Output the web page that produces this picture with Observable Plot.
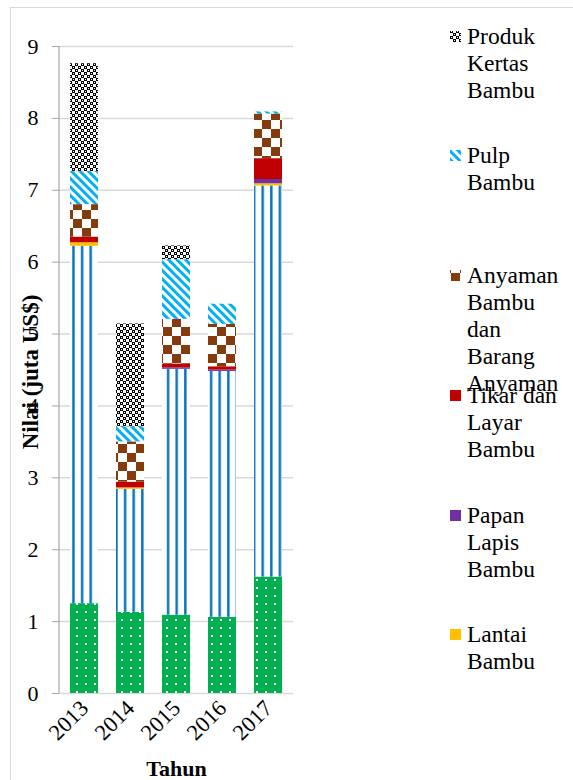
<!DOCTYPE html>
<html>
<head>
<meta charset="utf-8">
<script src="https://cdn.jsdelivr.net/npm/d3@7"></script>
<script src="https://cdn.jsdelivr.net/npm/@observablehq/plot@0.6"></script>
<style>
  html, body { margin: 0; padding: 0; background: #fff; }
  #chart { width: 573px; height: 780px; overflow: hidden; }
</style>
</head>
<body>
<div id="chart"></div>
<script>
// ---- Data (juta US$) ----
const years = ["2013", "2014", "2015", "2016", "2017"];
const seri1   = [1.25, 1.13, 1.09, 1.06, 1.62];   // green dotted (legend entry not visible)
const seri2   = [4.97, 1.71, 3.42, 3.42, 5.44];   // blue striped (legend entry not visible)
const lantai  = [0.05, 0.02, 0.00, 0.00, 0.03];   // Lantai Bambu
const papan   = [0.00, 0.00, 0.02, 0.02, 0.06];   // Papan Lapis Bambu
const tikar   = [0.08, 0.08, 0.055, 0.045, 0.29]; // Tikar dan Layar Bambu
const anyaman = [0.45, 0.56, 0.62, 0.59, 0.62];   // Anyaman Bambu dan Barang Anyaman
const pulp    = [0.46, 0.21, 0.83, 0.28, 0.03];   // Pulp Bambu
const produk  = [1.50, 1.43, 0.19, 0.00, 0.00];   // Produk Kertas Bambu
const yTicks = [0, 1, 2, 3, 4, 5, 6, 7, 8, 9];

const seriesNames = ["Seri 1", "Seri 2", "Lantai Bambu", "Papan Lapis Bambu", "Tikar dan Layar Bambu",
  "Anyaman Bambu dan Barang Anyaman", "Pulp Bambu", "Produk Kertas Bambu"];
const seriesValues = [seri1, seri2, lantai, papan, tikar, anyaman, pulp, produk];
const seriesFill = ["url(#pGreen)", "url(#pBlue)", "#FFC000", "#7030A0", "#C00000",
  "url(#pBrown)", "url(#pPulp)", "url(#pProduk)"];

// legend (as shown, top to bottom)
const legendLines = [
  ["Produk", "Kertas", "Bambu"],
  ["Pulp", "Bambu"],
  ["Anyaman", "Bambu", "dan", "Barang", "Anyaman"],
  ["Tikar dan", "Layar", "Bambu"],
  ["Papan", "Lapis", "Bambu"],
  ["Lantai", "Bambu"]
];
const legendFill = ["url(#pProduk)", "url(#pPulp)", "url(#pBrown)", "#C00000", "#7030A0", "#FFC000"];

// rows in stacking order (bottom to top)
const rows = [];
years.forEach((yr, i) => {
  seriesNames.forEach((s, j) => {
    rows.push({year: yr, series: s, value: seriesValues[j][i], fill: seriesFill[j]});
  });
});

const font = "'Liberation Serif', 'Times New Roman', serif";

const plot = Plot.plot({
  width: 573,
  height: 780,
  marginLeft: 59,
  marginRight: 280,
  marginTop: 46,
  marginBottom: 87,
  style: {fontFamily: font, background: "#fff", color: "#000", overflow: "visible"},
  x: {domain: years, paddingInner: 0.4, paddingOuter: 0.2, label: null},
  y: {domain: [0, 9], label: null},
  color: {type: "identity"},
  marks: [
    Plot.gridY(yTicks, {stroke: "#D9D9D9", strokeOpacity: 1, strokeWidth: 1.5}),
    Plot.barY(rows, {x: "year", y: "value", fill: "fill"}),
    Plot.axisY(yTicks, {tickSize: 7, tickPadding: 14, fontSize: 22, fontFamily: font, stroke: "#A6A6A6", fill: "#000", label: null, tickFormat: d => String(d)}),
    Plot.axisX({tickSize: 0, tickRotate: -45, tickPadding: 11, fontSize: 22.5, fontFamily: font, fill: "#000", label: null}),
    Plot.text(["Nilai (juta US$)"], {frameAnchor: "left", textAnchor: "middle", dx: -29, dy: 2, rotate: -90, fontSize: 23, fontFamily: font, fontWeight: "bold", fill: "#000"}),
    Plot.text(["Tahun"], {frameAnchor: "bottom", textAnchor: "middle", dy: 82, fontSize: 22, fontFamily: font, fontWeight: "bold", fill: "#000"})
  ]
});

const svg = d3.select(plot);
svg.insert("defs", ":first-child").html(`
  <pattern id="pGreen" patternUnits="userSpaceOnUse" width="9" height="8">
    <rect width="9" height="8" fill="#00B050"/>
    <rect x="4" y="3" width="2" height="2" fill="#fff"/>
  </pattern>
  <pattern id="pBlue" patternUnits="userSpaceOnUse" width="8.6" height="10" x="0.5">
    <rect width="8.6" height="10" fill="#fff"/>
    <rect x="3" width="2.4" height="10" fill="#0070C0"/>
  </pattern>
  <pattern id="pBrown" patternUnits="userSpaceOnUse" width="18" height="18" x="1" y="3">
    <rect width="18" height="18" fill="#fff"/>
    <rect width="9" height="9" fill="#843C0C"/>
    <rect x="9" y="9" width="9" height="9" fill="#843C0C"/>
  </pattern>
  <pattern id="pPulp" patternUnits="userSpaceOnUse" width="6" height="6" patternTransform="rotate(-45)">
    <rect width="6" height="6" fill="#fff"/>
    <rect width="3" height="6" fill="#00B0F0"/>
  </pattern>
  <pattern id="pProduk" patternUnits="userSpaceOnUse" width="6" height="6">
    <rect width="6" height="6" fill="#fff"/>
    <rect x="0" y="0" width="3" height="3" fill="#000"/>
    <rect x="3" y="3" width="3" height="3" fill="#000"/>
    <rect x="1" y="1" width="1" height="1" fill="#fff"/>
    <rect x="4" y="4" width="1" height="1" fill="#fff"/>
  </pattern>
`);

// chart border
svg.insert("rect", "defs + *")
  .attr("x", 10.5).attr("y", 7.5).attr("width", 700).attr("height", 900)
  .attr("fill", "none").attr("stroke", "#D9D9D9");

// vertical axis line
const ys = plot.scale("y"), xs = plot.scale("x");
const x0 = Math.min(...xs.range);
svg.append("line")
  .attr("x1", x0).attr("x2", x0)
  .attr("y1", ys.apply(9)).attr("y2", ys.apply(0))
  .attr("stroke", "#A6A6A6").attr("stroke-width", 1.2);

// legend
const legendTops = [31, 150, 270, 390, 510, 629];
const lg = svg.append("g").attr("font-family", font).attr("font-size", 23.5)
  .attr("fill", "#000").attr("text-anchor", "start");
legendLines.forEach((lines, i) => {
  const top = legendTops[i];
  lg.append("rect").attr("x", 450).attr("y", top).attr("width", 11).attr("height", 11)
    .attr("fill", legendFill[i]);
  const t = lg.append("text").attr("x", 467).attr("y", top + 13).attr("text-anchor", "start");
  lines.forEach((ln, k) => {
    t.append("tspan").attr("x", 467).attr("dy", k === 0 ? 0 : 27).text(ln);
  });
});

document.getElementById("chart").appendChild(plot);
</script>
</body>
</html>
